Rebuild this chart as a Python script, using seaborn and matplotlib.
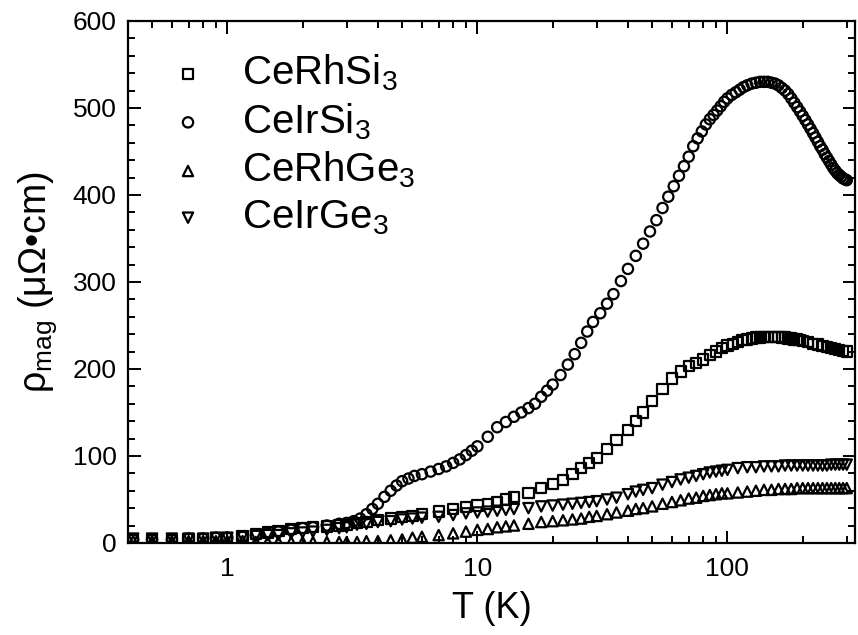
import numpy as np
import pandas as pd
import matplotlib
matplotlib.use("Agg")
import matplotlib.pyplot as plt
import seaborn as sns
from matplotlib.ticker import LogLocator, MultipleLocator, NullFormatter, FixedLocator

# values (T in K, rho in uOhm cm)
t_rhsi = [0.42, 0.5, 0.6, 0.7, 0.8, 0.9, 1.0, 1.15, 1.3, 1.45, 1.6, 1.8, 2.0, 2.2, 2.5, 2.8, 3.0, 3.3,
          3.6, 4.0, 4.5, 5.0, 5.5, 6.0, 7.0, 8.0, 9.0, 10, 11, 12, 13, 14, 16, 18, 20, 22, 24, 26,
          28, 30, 33, 36, 40, 43, 46, 50, 55, 60, 65, 70, 75, 80, 85, 90, 95, 100, 105, 110, 115,
          120, 125, 130, 135, 140, 145, 150, 155, 160, 165, 170, 175, 180, 185, 190, 195, 200, 210,
          220, 230, 240, 250, 260, 270, 280, 290, 300]
rho_rhsi = [3, 3, 3, 4, 4, 5, 6, 8, 10, 12, 14, 16, 17, 18, 19, 20, 21, 23,
            24, 26, 28, 30, 31, 33, 36, 39, 41, 43, 45, 47, 50, 53, 57, 63, 68, 72, 79, 86,
            92, 98, 108, 118, 130, 140, 150, 163, 177, 189, 197, 203, 207, 211, 216, 220, 224, 227, 229, 231, 233,
            234, 235, 236, 236, 237, 237, 237, 237, 237, 236, 236, 235, 235, 234, 234, 233, 232, 231,
            229, 228, 226, 225, 224, 223, 222, 221, 220]

t_irsi = [0.42, 0.5, 0.6, 0.7, 0.8, 0.9, 1.0, 1.15, 1.3, 1.45, 1.6, 1.8, 2.0, 2.2, 2.5, 2.8, 3.0, 3.2,
          3.4, 3.6, 3.8, 4.0, 4.25, 4.5, 4.75, 5.0, 5.3, 5.6, 6.0, 6.5, 7.0, 7.5, 8.0, 8.5, 9.0, 9.5,
          10, 11, 12, 13, 14, 15, 16, 17, 18, 19, 20, 21.5, 23, 24.5, 26, 27.5, 29, 31, 33, 35, 37.5,
          40, 43, 46, 49, 52, 55, 58, 61, 64, 67, 70, 73, 76, 79, 82, 85, 88, 91, 94, 97, 100, 104,
          108, 112, 116, 120, 125, 130, 135, 140, 145, 150, 155, 160, 165, 170, 175, 180, 185, 190,
          195, 200, 205, 210, 215, 220, 225, 230, 235, 240, 245, 250, 255, 260, 265, 270, 275, 280,
          285, 290, 295, 300]
rho_irsi = [4, 4, 4, 5, 5, 6, 6, 7, 9, 11, 13, 15, 17, 18, 20, 22, 23, 25,
            28, 33, 39, 45, 53, 60, 66, 71, 74, 77, 79, 82, 85, 88, 92, 96, 101, 106,
            111, 122, 133, 139, 145, 150, 155, 160, 168, 175, 182, 193, 205, 217, 230, 243, 254, 264, 275, 286, 301,
            315, 330, 344, 358, 371, 385, 398, 410, 422, 433, 444, 456, 465, 473, 481, 487, 492, 497, 502, 507, 511, 515,
            518, 521, 524, 526, 528, 529, 530, 530, 530, 529, 528, 526, 523, 520, 516, 511, 506, 501,
            496, 491, 486, 481, 476, 471, 466, 461, 456, 452, 447, 443, 439, 435, 431, 428, 425, 423,
            421, 419, 418, 417]

t_rhge = [0.42, 0.5, 0.6, 0.7, 0.8, 0.9, 1.0, 1.15, 1.3, 1.45, 1.6, 1.8, 2.0, 2.2, 2.5, 2.8, 3.0, 3.3,
          3.6, 4.0, 4.5, 5.0, 5.5, 6.0, 7.0, 8.0, 9.0, 10, 11, 12, 13, 14, 16, 18, 20, 22, 24, 26,
          28, 30, 33, 36, 40, 43, 46, 50, 55, 60, 65, 70, 75, 80, 85, 90, 95, 100, 110, 120, 130,
          140, 150, 160, 170, 180, 190, 200, 210, 220, 230, 240, 250, 260, 270, 280, 290, 300]
rho_rhge = [2, 2, 2, 2, 2, 2, 2, 2, 1, 1, 1, 1, 1, 1, 1, 1, 1, 1,
            2, 2, 3, 4, 6, 7, 9, 11, 13, 15, 16, 18, 19, 20, 22, 24, 25, 26, 27, 28,
            30, 31, 33, 35, 37, 39, 40, 42, 45, 47, 49, 51, 52, 54, 55, 56, 57, 57, 58, 59, 60,
            61, 61, 62, 62, 62, 63, 63, 63, 63, 63, 63, 63, 63, 63, 63, 63, 63]

t_irge = [0.42, 0.5, 0.6, 0.7, 0.8, 0.9, 1.0, 1.15, 1.3, 1.45, 1.6, 1.8, 2.0, 2.2, 2.5, 2.8, 3.0, 3.3,
          3.6, 4.0, 4.5, 5.0, 5.5, 6.0, 7.0, 8.0, 9.0, 10, 11, 12, 13, 14, 16, 18, 20, 22, 24, 26,
          28, 30, 33, 36, 40, 43, 46, 50, 55, 60, 65, 70, 75, 80, 85, 90, 95, 100, 110, 120, 130,
          140, 150, 160, 170, 180, 190, 200, 210, 220, 230, 240, 250, 260, 270, 280, 290, 300]
rho_irge = [5, 5, 5, 5, 5, 6, 6, 7, 8, 9, 9, 11, 12, 13, 15, 17, 18, 21,
            22, 24, 25, 27, 28, 29, 30, 32, 34, 35, 36, 37, 38, 39, 40, 42, 43, 44, 45, 46,
            47, 48, 50, 52, 56, 59, 61, 63, 67, 70, 73, 75, 77, 79, 81, 82, 83, 84, 86, 87, 87,
            88, 88, 88, 89, 89, 89, 89, 89, 89, 89, 89, 89, 90, 90, 90, 90, 90]

labels = ["CeRhSi$_3$", "CeIrSi$_3$", "CeRhGe$_3$", "CeIrGe$_3$"]
markers = ["s", "o", "^", "v"]

sns.set_style("ticks", {"axes.edgecolor": "black", "text.color": "black",
                        "axes.labelcolor": "black", "xtick.color": "black",
                        "ytick.color": "black"})
plt.rcParams["font.family"] = ["Liberation Sans", "DejaVu Sans"]
plt.rcParams["mathtext.fontset"] = "custom"
plt.rcParams["mathtext.rm"] = "Liberation Sans"
plt.rcParams["mathtext.it"] = "Liberation Sans"

fig = plt.figure(figsize=(8.58, 6.35), dpi=100)
ax = fig.add_axes([0.149, 0.145, 0.848, 0.822])

series = [(t_rhsi, rho_rhsi), (t_irsi, rho_irsi), (t_rhge, rho_rhge), (t_irge, rho_irge)]
for (t, r), lab, m in zip(series, labels, markers):
    df = pd.DataFrame({"T": t, "rho": r})
    sns.scatterplot(data=df, x="T", y="rho", marker=m, s=55, facecolor="none",
                    edgecolor="black", linewidth=1.6, label=lab, ax=ax)

ax.set_xscale("log")
ax.set_xlim(0.4, 325)
ax.set_ylim(0, 600)
ax.xaxis.set_major_locator(FixedLocator([1, 10, 100]))
ax.set_xticklabels(["1", "10", "100"])
ax.xaxis.set_minor_locator(LogLocator(base=10, subs=np.arange(2, 10)))
ax.xaxis.set_minor_formatter(NullFormatter())
ax.yaxis.set_major_locator(MultipleLocator(100))
ax.yaxis.set_minor_locator(MultipleLocator(20))

ax.tick_params(which="both", direction="in", top=True, right=True, width=1.4, labelsize=19,
               colors="black")
ax.tick_params(which="major", length=9)
ax.tick_params(which="minor", length=5)
ax.tick_params(axis="x", which="major", pad=10)
ax.tick_params(axis="y", which="major", pad=8)
for sp in ax.spines.values():
    sp.set_linewidth(1.6)
    sp.set_color("black")

ax.set_xlabel("T (K)", fontsize=26, labelpad=7)
ax.set_ylabel("ρ$_{\\mathrm{mag}}$ (μΩ•cm)", fontsize=27, labelpad=10)

ax.legend(loc="upper left", bbox_to_anchor=(0.055, 0.94), frameon=False, fontsize=29,
          labelspacing=0.2, handlelength=1.0, handletextpad=0.85, borderaxespad=0,
          borderpad=0, markerscale=1.0)

fig.savefig("out.png", dpi=100)
